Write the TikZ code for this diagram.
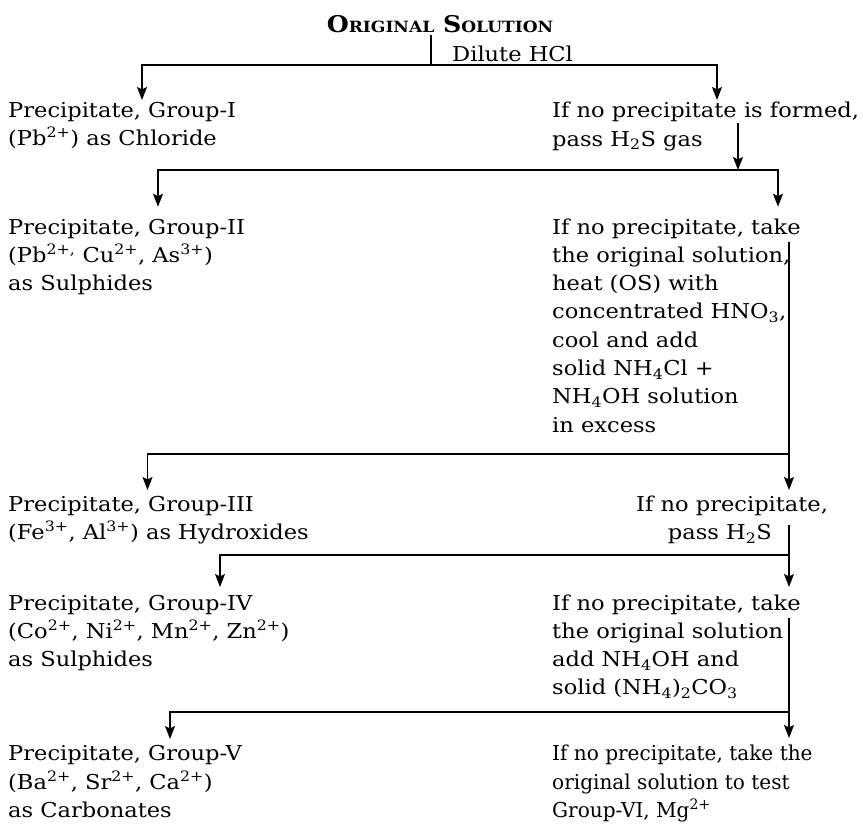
\documentclass[tikz,border=0pt]{standalone}
\usepackage{fontspec}
\setmainfont{DejaVu Serif}[FakeStretch=1.1]
\usetikzlibrary{arrows.meta}
\newcommand\sups[1]{\textsuperscript{#1}}
\newcommand\subs[1]{\textsubscript{#1}}
\newcommand\bigc{\fontsize{23}{23}\selectfont}
\newcommand\smc{\fontsize{15.5}{15.5}\selectfont}
\begin{document}
\begin{tikzpicture}[x=1pt,y=-1pt,
  txt/.style={inner sep=0pt, align=left, anchor=base west, font=\fontsize{20.5}{28.3}\selectfont},
  arr/.style={line width=1.6pt, -{Stealth[length=13pt,width=10pt,inset=2.5pt]}},
  ln/.style={line width=1.6pt}]
\fill[white] (0,0) rectangle (863,823);
\useasboundingbox (0,0) rectangle (863,823);

% title and first split
\node[anchor=base, inner sep=2.5pt] (t) at (440,32) {\bfseries\bigc O{\smc RIGINAL} S{\smc OLUTION}};
\node[txt] (d) at (452,61) {Dilute HCl};
\coordinate (v0) at (431,65);
\coordinate (e1l) at (142,100);
\coordinate (e1r) at (717,100);
\draw[ln] (t.south -| v0) -- (v0);
\draw[arr] (v0) -| (e1l);
\draw[arr] (v0) -| (e1r);

% group I (base anchor = baseline of the last line)
\node[txt] (g1) at (8,145.5) {Precipitate, Group-I\\(Pb\sups{2+}) as Chloride};
\node[txt] (n1) at (552,146) {If no precipitate is formed,\\pass H\subs{2}S gas};
\coordinate (s1) at (738,122.7);
\coordinate (v1) at (738,170);
\coordinate (e2l) at (158,206.7);
\coordinate (e2r) at (778,206.7);
\draw[arr] (s1) -- (v1);
\draw[arr] (v1) -| (e2l);
\draw[arr] (v1) -| (e2r);

% group II
\node[txt] (g2) at (8,290.6) {Precipitate, Group-II\\(Pb\sups{2+,} Cu\sups{2+}, As\sups{3+})\\as Sulphides};
\node[txt] (n2) at (552,432.1) {If no precipitate, take\\the original solution,\\heat (OS) with\\concentrated HNO\subs{3},\\cool and add\\solid NH\subs{4}Cl +\\NH\subs{4}OH solution\\in excess};
\coordinate (s2) at (789,241.7);
\coordinate (v2) at (789,454);
\coordinate (e3l) at (147.5,490);
\coordinate (e3r) at (789,490);
\draw[arr] (s2) -- (e3r);
\draw[arr] (v2) -| (e3l);

% group III
\node[txt] (g3) at (8,539.5) {Precipitate, Group-III\\(Fe\sups{3+}, Al\sups{3+}) as Hydroxides};
\node[txt] (n3) at (636,539.5) {If no precipitate,\\\hspace*{31.7pt}pass H\subs{2}S};
\coordinate (s3) at (789,525);
\coordinate (v3) at (789,555);
\coordinate (e4l) at (220,587);
\coordinate (e4r) at (789,587);
\draw[arr] (s3) -- (e4r);
\draw[arr] (v3) -| (e4l);

% group IV
\node[txt] (g4) at (8,666.6) {Precipitate, Group-IV\\(Co\sups{2+}, Ni\sups{2+}, Mn\sups{2+}, Zn\sups{2+})\\as Sulphides};
\node[txt] (n4) at (552,694.9) {If no precipitate, take\\the original solution\\add NH\subs{4}OH and\\solid (NH\subs{4})\subs{2}CO\subs{3}};
\coordinate (s4) at (789,618);
\coordinate (v4) at (789,712);
\coordinate (e5l) at (170,739);
\coordinate (e5r) at (789,738);
\draw[arr] (s4) -- (e5r);
\draw[arr] (v4) -| (e5l);

% group V
\node[txt] (g5) at (8,817.5) {Precipitate, Group-V\\(Ba\sups{2+}, Sr\sups{2+}, Ca\sups{2+})\\as Carbonates};
\node[txt] (n5) at (552,817.5) {\scalebox{0.89}[1]{If no precipitate, take the}\\\scalebox{0.89}[1]{original solution to test}\\\scalebox{0.89}[1]{Group-VI, Mg\sups{2+}}};
\end{tikzpicture}
\end{document}
